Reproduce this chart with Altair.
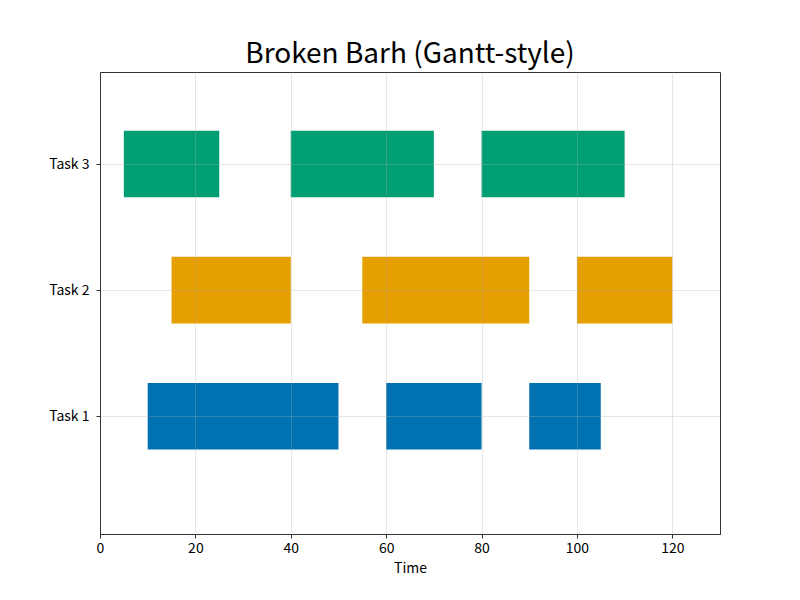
import altair as alt
import pandas as pd

tasks = ["Task 1", "Task 2", "Task 3"]
task_pos = [1, 2, 3]
starts = [[10, 60, 90], [15, 55, 100], [5, 40, 80]]
durations = [[40, 20, 15], [25, 35, 20], [20, 30, 30]]
colors = ["#0072B2", "#E69F00", "#009E73"]
x_ticks = [0, 20, 40, 60, 80, 100, 120]

HALF = 0.264
rows = []
for t, p, ss, ds in zip(tasks, task_pos, starts, durations):
    for s, d in zip(ss, ds):
        rows.append({"task": t, "pos": p, "start": s, "end": s + d,
                     "y0": p - HALF, "y1": p + HALF})
df = pd.DataFrame(rows)

FONT = "Noto Sans CJK JP"

chart = alt.Chart(df).mark_rect().encode(
    x=alt.X("start:Q",
            scale=alt.Scale(domain=[0, 130], nice=False, zero=False),
            axis=alt.Axis(title="Time", values=x_ticks, format="d",
                          grid=True, gridColor="#b0b0b0", gridOpacity=0.3,
                          zindex=1, tickSize=4, labelPadding=3,
                          labelFlush=False,
                          titlePadding=6, labelFontSize=14, titleFontSize=14,
                          labelFont=FONT, titleFont=FONT, labelColor="#000",
                          titleColor="#000", titleFontWeight="normal",
                          domainColor="#333", tickColor="#333")),
    x2="end:Q",
    y=alt.Y("y0:Q",
            scale=alt.Scale(domain=[0.066, 3.730], nice=False, zero=False),
            axis=alt.Axis(title=None, values=task_pos,
                          labelExpr="'Task ' + datum.value",
                          labelFlush=False,
                          grid=True, gridColor="#b0b0b0", gridOpacity=0.3,
                          zindex=1, tickSize=4, labelPadding=7,
                          labelFontSize=14, labelFont=FONT, labelColor="#000",
                          domainColor="#333", tickColor="#333")),
    y2="y1:Q",
    color=alt.Color("task:N", scale=alt.Scale(domain=tasks, range=colors),
                    legend=None),
).properties(
    width=620,
    height=462,
    title=alt.TitleParams("Broken Barh (Gantt-style)", fontSize=28,
                          font=FONT, fontWeight="normal", color="#000",
                          anchor="middle", offset=3),
    autosize="none",
    padding={"left": 100, "top": 72, "right": 80, "bottom": 66},
).configure_view(
    stroke="#333", strokeWidth=1
)

chart.save("out.html", embed_options={"renderer": "svg", "actions": False})
